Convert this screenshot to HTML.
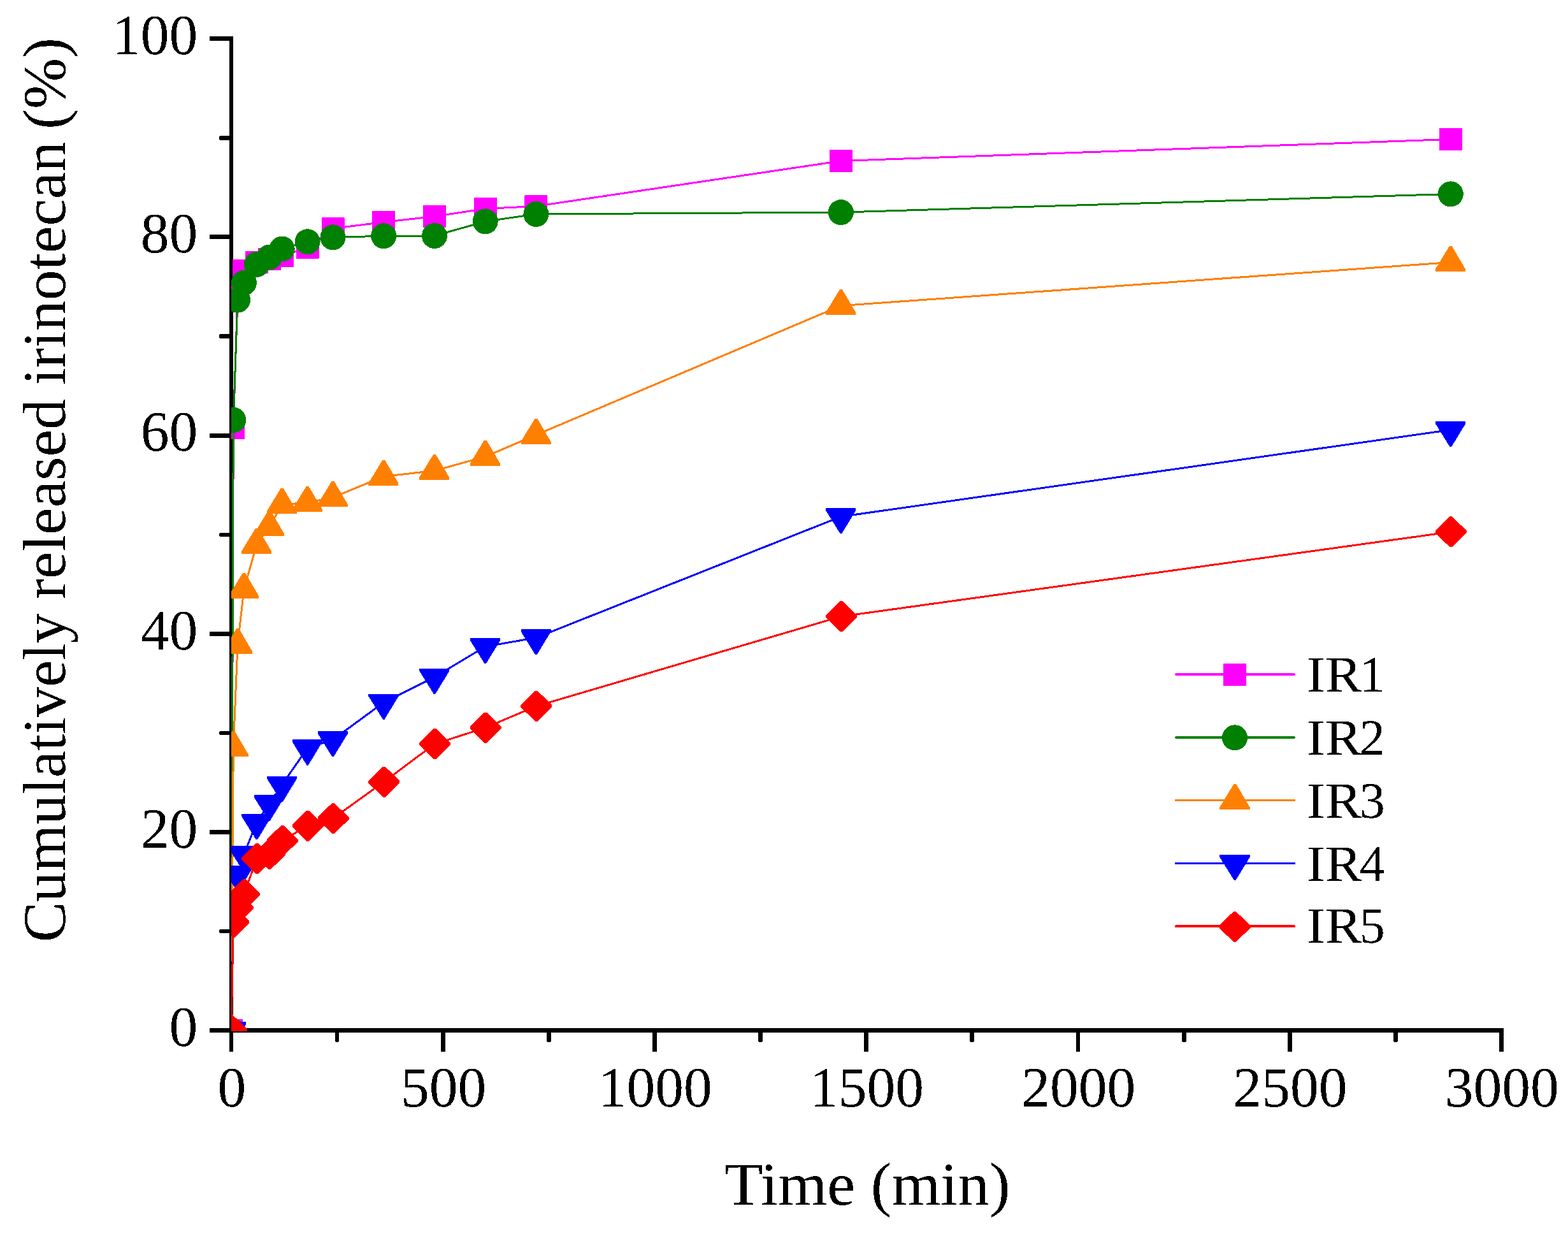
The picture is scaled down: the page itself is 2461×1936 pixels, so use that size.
<!DOCTYPE html>
<html lang="en"><head><meta charset="utf-8"><title>Cumulatively released irinotecan</title>
<style>
html,body{margin:0;padding:0;background:#fff;}
body{width:2461px;height:1936px;overflow:hidden;}
svg{display:block;}
text{font-family:"Liberation Serif","Times New Roman",Times,serif;fill:#000;text-rendering:geometricPrecision;}
.tk{font-size:89.5px;}
.tt{font-size:95.3px;}
.lg{font-size:80px;}
</style></head><body>
<svg width="2461" height="1936" viewBox="0 0 2461 1936">
<rect width="2461" height="1936" fill="#fff"/>
<defs><clipPath id="plot"><rect x="363" y="40" width="2040" height="1578"/></clipPath>
<filter id="crisp" x="-5%" y="-20%" width="110%" height="140%" color-interpolation-filters="sRGB"><feComponentTransfer><feFuncA type="discrete" tableValues="0 1"/></feComponentTransfer></filter></defs>
<g fill="#000" shape-rendering="crispEdges">
<rect x="360" y="57" width="6" height="1563"/>
<rect x="360" y="1613" width="2000" height="7"/>
<rect x="329" y="57" width="33" height="7" rx="1.6"/>
<rect x="344" y="213" width="18" height="7" rx="2.2"/>
<rect x="329" y="368" width="33" height="7" rx="1.6"/>
<rect x="344" y="524" width="18" height="7" rx="2.2"/>
<rect x="329" y="680" width="33" height="7" rx="1.6"/>
<rect x="344" y="836" width="18" height="6" rx="2.2"/>
<rect x="329" y="991" width="33" height="7" rx="1.6"/>
<rect x="344" y="1147" width="18" height="6" rx="2.2"/>
<rect x="329" y="1302" width="33" height="7" rx="1.6"/>
<rect x="344" y="1458" width="18" height="6" rx="2.2"/>
<rect x="329" y="1613" width="33" height="7" rx="1.6"/>
<rect x="360" y="1617" width="6" height="33" rx="1.6"/>
<rect x="526" y="1617" width="6" height="18" rx="2.2"/>
<rect x="692" y="1617" width="7" height="33" rx="1.6"/>
<rect x="858" y="1617" width="7" height="18" rx="2.2"/>
<rect x="1024" y="1617" width="7" height="33" rx="1.6"/>
<rect x="1190" y="1617" width="7" height="18" rx="2.2"/>
<rect x="1356" y="1617" width="7" height="33" rx="1.6"/>
<rect x="1522" y="1617" width="7" height="18" rx="2.2"/>
<rect x="1689" y="1617" width="6" height="33" rx="1.6"/>
<rect x="1855" y="1617" width="7" height="18" rx="2.2"/>
<rect x="2021" y="1617" width="7" height="33" rx="1.6"/>
<rect x="2187" y="1617" width="7" height="18" rx="2.2"/>
<rect x="2353" y="1617" width="7" height="33" rx="1.6"/>
</g>
<g class="tk" filter="url(#crisp)">
<text x="310.3" y="1641" text-anchor="end">0</text>
<text x="310.3" y="1330" text-anchor="end">20</text>
<text x="310.3" y="1019" text-anchor="end">40</text>
<text x="310.3" y="707" text-anchor="end">60</text>
<text x="310.3" y="396" text-anchor="end">80</text>
<text x="310.3" y="85" text-anchor="end">100</text>
<text x="363.8" y="1736" text-anchor="middle">0</text>
<text x="696" y="1736" text-anchor="middle">500</text>
<text x="1028.3" y="1736" text-anchor="middle">1000</text>
<text x="1360.5" y="1736" text-anchor="middle">1500</text>
<text x="1692.8" y="1736" text-anchor="middle">2000</text>
<text x="2025" y="1736" text-anchor="middle">2500</text>
<text x="2357.3" y="1736" text-anchor="middle">3000</text>
</g>
<text class="tt" filter="url(#crisp)" y="1890.2"><tspan x="1136.80" textLength="205.30" lengthAdjust="spacingAndGlyphs">Time</tspan> <tspan x="1366.70" textLength="218.80" lengthAdjust="spacingAndGlyphs">(min)</tspan></text>
<g filter="url(#crisp)"><text class="tt" transform="translate(102.2 0) rotate(-90)"><tspan x="-1478.30" textLength="516.30" lengthAdjust="spacingAndGlyphs">Cumulatively</tspan> <tspan x="-940.00" textLength="314.00" lengthAdjust="spacingAndGlyphs">released</tspan> <tspan x="-604.00" textLength="382.00" lengthAdjust="spacingAndGlyphs">irinotecan</tspan> <tspan x="-203.10" textLength="144.10" lengthAdjust="spacingAndGlyphs">(%)</tspan></text></g>
<g clip-path="url(#plot)" shape-rendering="crispEdges">
<polyline points="363,1616.5 366.3,671.5 373,456 382.9,424.5 402.9,411.5 422.8,406.5 442.7,401.5 482.6,388.5 522.5,358.5 602.2,348.5 682,339.5 761.7,327.5 841.4,323.5 1319.9,252.5 2276.8,218.5" fill="none" stroke="#ff00ff" stroke-width="3" stroke-linejoin="round"/>
<rect x="345" y="1599" width="36" height="35" rx="1" fill="#ff00ff"/>
<rect x="348.3" y="654" width="36" height="35" rx="1" fill="#ff00ff"/>
<rect x="355" y="438.5" width="36" height="35" rx="1" fill="#ff00ff"/>
<rect x="364.9" y="407" width="36" height="35" rx="1" fill="#ff00ff"/>
<rect x="384.9" y="394" width="36" height="35" rx="1" fill="#ff00ff"/>
<rect x="404.8" y="389" width="36" height="35" rx="1" fill="#ff00ff"/>
<rect x="424.7" y="384" width="36" height="35" rx="1" fill="#ff00ff"/>
<rect x="464.6" y="371" width="36" height="35" rx="1" fill="#ff00ff"/>
<rect x="504.5" y="341" width="36" height="35" rx="1" fill="#ff00ff"/>
<rect x="584.2" y="331" width="36" height="35" rx="1" fill="#ff00ff"/>
<rect x="664" y="322" width="36" height="35" rx="1" fill="#ff00ff"/>
<rect x="743.7" y="310" width="36" height="35" rx="1" fill="#ff00ff"/>
<rect x="823.4" y="306" width="36" height="35" rx="1" fill="#ff00ff"/>
<rect x="1301.9" y="235" width="36" height="35" rx="1" fill="#ff00ff"/>
<rect x="2258.8" y="201" width="36" height="35" rx="1" fill="#ff00ff"/>
<polyline points="363,1616.5 366.3,658.9 373,470.7 382.9,443.7 402.9,415 422.8,403.6 442.7,390.5 482.6,379.3 522.5,372.4 602.2,370.2 682,370 761.7,347.4 841.4,335.9 1319.9,333.1 2276.8,304.4" fill="none" stroke="#008000" stroke-width="3" stroke-linejoin="round"/>
<circle cx="363" cy="1616.5" r="20" fill="#008000"/>
<circle cx="366.3" cy="658.9" r="20" fill="#008000"/>
<circle cx="373" cy="470.7" r="20" fill="#008000"/>
<circle cx="382.9" cy="443.7" r="20" fill="#008000"/>
<circle cx="402.9" cy="415" r="20" fill="#008000"/>
<circle cx="422.8" cy="403.6" r="20" fill="#008000"/>
<circle cx="442.7" cy="390.5" r="20" fill="#008000"/>
<circle cx="482.6" cy="379.3" r="20" fill="#008000"/>
<circle cx="522.5" cy="372.4" r="20" fill="#008000"/>
<circle cx="602.2" cy="370.2" r="20" fill="#008000"/>
<circle cx="682" cy="370" r="20" fill="#008000"/>
<circle cx="761.7" cy="347.4" r="20" fill="#008000"/>
<circle cx="841.4" cy="335.9" r="20" fill="#008000"/>
<circle cx="1319.9" cy="333.1" r="20" fill="#008000"/>
<circle cx="2276.8" cy="304.4" r="20" fill="#008000"/>
<polyline points="363,1616.5 366.3,1172.5 373,1011.6 382.9,924.3 402.9,854.4 422.8,826.6 442.7,791.5 482.6,788.5 522.5,780.5 602.2,747.4 682,738.5 761.7,716.4 841.4,682.3 1319.9,479.6 2276.8,411.5" fill="none" stroke="#ff8000" stroke-width="3" stroke-linejoin="round"/>
<polygon points="361.2,1590.8 364.9,1590.8 386.2,1627.1 386.2,1630.9 339.1,1630.9 339.1,1627.1" fill="#ff8000"/>
<polygon points="364.5,1146.8 368.2,1146.8 389.5,1183.1 389.5,1186.9 342.4,1186.9 342.4,1183.1" fill="#ff8000"/>
<polygon points="371.2,985.9 374.9,985.9 396.2,1022.2 396.2,1026 349.1,1026 349.1,1022.2" fill="#ff8000"/>
<polygon points="381.1,898.6 384.8,898.6 406.1,934.9 406.1,938.7 359,938.7 359,934.9" fill="#ff8000"/>
<polygon points="401.1,828.7 404.8,828.7 426.1,865 426.1,868.8 379,868.8 379,865" fill="#ff8000"/>
<polygon points="421,800.9 424.7,800.9 446,837.2 446,841 398.9,841 398.9,837.2" fill="#ff8000"/>
<polygon points="440.9,765.8 444.6,765.8 465.9,802.1 465.9,805.9 418.8,805.9 418.8,802.1" fill="#ff8000"/>
<polygon points="480.8,762.8 484.5,762.8 505.8,799.1 505.8,802.9 458.7,802.9 458.7,799.1" fill="#ff8000"/>
<polygon points="520.7,754.8 524.4,754.8 545.7,791.1 545.7,794.9 498.6,794.9 498.6,791.1" fill="#ff8000"/>
<polygon points="600.4,721.7 604.1,721.7 625.4,758 625.4,761.8 578.3,761.8 578.3,758" fill="#ff8000"/>
<polygon points="680.2,712.8 683.9,712.8 705.2,749.1 705.2,752.9 658.1,752.9 658.1,749.1" fill="#ff8000"/>
<polygon points="759.9,690.7 763.6,690.7 784.9,727 784.9,730.8 737.8,730.8 737.8,727" fill="#ff8000"/>
<polygon points="839.6,656.6 843.3,656.6 864.6,692.9 864.6,696.7 817.5,696.7 817.5,692.9" fill="#ff8000"/>
<polygon points="1318.1,453.9 1321.8,453.9 1343.1,490.2 1343.1,494 1296,494 1296,490.2" fill="#ff8000"/>
<polygon points="2275,385.8 2278.7,385.8 2300,422.1 2300,425.9 2252.9,425.9 2252.9,422.1" fill="#ff8000"/>
<polyline points="363,1616.5 366.3,1438 373,1371.6 382.9,1340.5 402.9,1290.3 422.8,1260.7 442.7,1231 482.6,1173.7 522.5,1160.5 602.2,1102 682,1062.2 761.7,1014.4 841.4,1000.5 1319.9,810.5 2276.8,674.4" fill="none" stroke="#0000ff" stroke-width="3" stroke-linejoin="round"/>
<polygon points="339.2,1603 386.4,1603 386.4,1606.9 364.2,1643.3 361.8,1643.3 339.2,1606.9" fill="#0000ff"/>
<polygon points="342.5,1424.5 389.7,1424.5 389.7,1428.4 367.5,1464.8 365.1,1464.8 342.5,1428.4" fill="#0000ff"/>
<polygon points="349.2,1358.1 396.4,1358.1 396.4,1362 374.2,1398.4 371.8,1398.4 349.2,1362" fill="#0000ff"/>
<polygon points="359.1,1327 406.3,1327 406.3,1330.9 384.1,1367.3 381.7,1367.3 359.1,1330.9" fill="#0000ff"/>
<polygon points="379.1,1276.8 426.3,1276.8 426.3,1280.7 404.1,1317.1 401.7,1317.1 379.1,1280.7" fill="#0000ff"/>
<polygon points="399,1247.2 446.2,1247.2 446.2,1251.1 424,1287.5 421.6,1287.5 399,1251.1" fill="#0000ff"/>
<polygon points="418.9,1217.5 466.1,1217.5 466.1,1221.4 443.9,1257.8 441.5,1257.8 418.9,1221.4" fill="#0000ff"/>
<polygon points="458.8,1160.2 506,1160.2 506,1164.1 483.8,1200.5 481.4,1200.5 458.8,1164.1" fill="#0000ff"/>
<polygon points="498.7,1147 545.9,1147 545.9,1150.9 523.7,1187.3 521.3,1187.3 498.7,1150.9" fill="#0000ff"/>
<polygon points="578.4,1088.5 625.6,1088.5 625.6,1092.4 603.4,1128.8 601,1128.8 578.4,1092.4" fill="#0000ff"/>
<polygon points="658.2,1048.7 705.4,1048.7 705.4,1052.6 683.2,1089 680.8,1089 658.2,1052.6" fill="#0000ff"/>
<polygon points="737.9,1000.9 785.1,1000.9 785.1,1004.8 762.9,1041.2 760.5,1041.2 737.9,1004.8" fill="#0000ff"/>
<polygon points="817.6,987 864.8,987 864.8,990.9 842.6,1027.3 840.2,1027.3 817.6,990.9" fill="#0000ff"/>
<polygon points="1296.1,797 1343.3,797 1343.3,800.9 1321.1,837.3 1318.7,837.3 1296.1,800.9" fill="#0000ff"/>
<polygon points="2253,660.9 2300.2,660.9 2300.2,664.8 2278,701.2 2275.6,701.2 2253,664.8" fill="#0000ff"/>
<polyline points="363,1616.5 366.3,1446.8 373,1424.1 382.9,1403.1 402.9,1347.3 422.8,1339.9 442.7,1318.9 482.6,1295.7 522.5,1284.1 602.2,1226.8 682,1167.4 761.7,1141.7 841.4,1108 1319.9,967.2 2276.8,834.5" fill="none" stroke="#ff0000" stroke-width="3" stroke-linejoin="round"/>
<polygon points="361.8,1592.3 365.2,1592.3 388,1614.6 388,1618.1 365.2,1640.4 361.8,1640.4 339,1618.1 339,1614.6" fill="#ff0000"/>
<polygon points="365.1,1422.6 368.6,1422.6 391.3,1444.9 391.3,1448.4 368.6,1470.7 365.1,1470.7 342.3,1448.4 342.3,1444.9" fill="#ff0000"/>
<polygon points="371.7,1399.9 375.2,1399.9 398,1422.2 398,1425.7 375.2,1448 371.7,1448 349,1425.7 349,1422.2" fill="#ff0000"/>
<polygon points="381.7,1378.9 385.2,1378.9 407.9,1401.2 407.9,1404.7 385.2,1427 381.7,1427 358.9,1404.7 358.9,1401.2" fill="#ff0000"/>
<polygon points="401.6,1323.1 405.1,1323.1 427.9,1345.4 427.9,1348.9 405.1,1371.2 401.6,1371.2 378.9,1348.9 378.9,1345.4" fill="#ff0000"/>
<polygon points="421.6,1315.7 425.1,1315.7 447.8,1338 447.8,1341.5 425.1,1363.8 421.6,1363.8 398.8,1341.5 398.8,1338" fill="#ff0000"/>
<polygon points="441.5,1294.7 445,1294.7 467.7,1317 467.7,1320.5 445,1342.8 441.5,1342.8 418.7,1320.5 418.7,1317" fill="#ff0000"/>
<polygon points="481.4,1271.5 484.9,1271.5 507.6,1293.8 507.6,1297.3 484.9,1319.6 481.4,1319.6 458.6,1297.3 458.6,1293.8" fill="#ff0000"/>
<polygon points="521.2,1259.9 524.7,1259.9 547.5,1282.2 547.5,1285.7 524.7,1308 521.2,1308 498.5,1285.7 498.5,1282.2" fill="#ff0000"/>
<polygon points="601,1202.6 604.5,1202.6 627.2,1224.9 627.2,1228.4 604.5,1250.7 601,1250.7 578.2,1228.4 578.2,1224.9" fill="#ff0000"/>
<polygon points="680.7,1143.2 684.2,1143.2 707,1165.5 707,1169 684.2,1191.3 680.7,1191.3 658,1169 658,1165.5" fill="#ff0000"/>
<polygon points="760.5,1117.5 764,1117.5 786.7,1139.8 786.7,1143.3 764,1165.6 760.5,1165.6 737.7,1143.3 737.7,1139.8" fill="#ff0000"/>
<polygon points="840.2,1083.8 843.7,1083.8 866.4,1106.1 866.4,1109.6 843.7,1131.9 840.2,1131.9 817.4,1109.6 817.4,1106.1" fill="#ff0000"/>
<polygon points="1318.6,943 1322.1,943 1344.9,965.3 1344.9,968.8 1322.1,991.1 1318.6,991.1 1295.9,968.8 1295.9,965.3" fill="#ff0000"/>
<polygon points="2275.5,810.3 2279,810.3 2301.8,832.6 2301.8,836.1 2279,858.4 2275.5,858.4 2252.8,836.1 2252.8,832.6" fill="#ff0000"/>
</g>
<g shape-rendering="crispEdges">
<line x1="1845.5" y1="1058" x2="2031.5" y2="1058" stroke="#ff00ff" stroke-width="3.6" stroke-linecap="round"/>
<rect x="1920" y="1040.8" width="36" height="35" rx="1" fill="#ff00ff"/>
<text class="lg" filter="url(#crisp)" y="1084.7"><tspan x="2051.1" textLength="86.4" lengthAdjust="spacingAndGlyphs">IR</tspan><tspan x="2133.7">1</tspan></text>
<line x1="1845.5" y1="1157" x2="2031.5" y2="1157" stroke="#008000" stroke-width="3.6" stroke-linecap="round"/>
<circle cx="1938" cy="1157.3" r="20" fill="#008000"/>
<text class="lg" filter="url(#crisp)" y="1183.7"><tspan x="2051.1" textLength="86.4" lengthAdjust="spacingAndGlyphs">IR</tspan><tspan x="2133.7">2</tspan></text>
<line x1="1845.5" y1="1255.6" x2="2031.5" y2="1255.6" stroke="#ff8000" stroke-width="3.6" stroke-linecap="round"/>
<polygon points="1936.5,1230 1940.2,1230 1961.5,1266.3 1961.5,1270.1 1914.4,1270.1 1914.4,1266.3" fill="#ff8000"/>
<text class="lg" filter="url(#crisp)" y="1282.7"><tspan x="2051.1" textLength="86.4" lengthAdjust="spacingAndGlyphs">IR</tspan><tspan x="2133.7">3</tspan></text>
<line x1="1845.5" y1="1354.4" x2="2031.5" y2="1354.4" stroke="#0000ff" stroke-width="3.6" stroke-linecap="round"/>
<polygon points="1914.4,1341 1961.6,1341 1961.6,1344.9 1939.4,1381.3 1937,1381.3 1914.4,1344.9" fill="#0000ff"/>
<text class="lg" filter="url(#crisp)" y="1381.7"><tspan x="2051.1" textLength="86.4" lengthAdjust="spacingAndGlyphs">IR</tspan><tspan x="2133.7">4</tspan></text>
<line x1="1845.5" y1="1453.2" x2="2031.5" y2="1453.2" stroke="#ff0000" stroke-width="3.6" stroke-linecap="round"/>
<polygon points="1936.2,1429.9 1939.8,1429.9 1962.5,1452.2 1962.5,1455.7 1939.8,1478 1936.2,1478 1913.5,1455.7 1913.5,1452.2" fill="#ff0000"/>
<text class="lg" filter="url(#crisp)" y="1479.2"><tspan x="2051.1" textLength="86.4" lengthAdjust="spacingAndGlyphs">IR</tspan><tspan x="2133.7">5</tspan></text>
</g>
</svg>
</body></html>
